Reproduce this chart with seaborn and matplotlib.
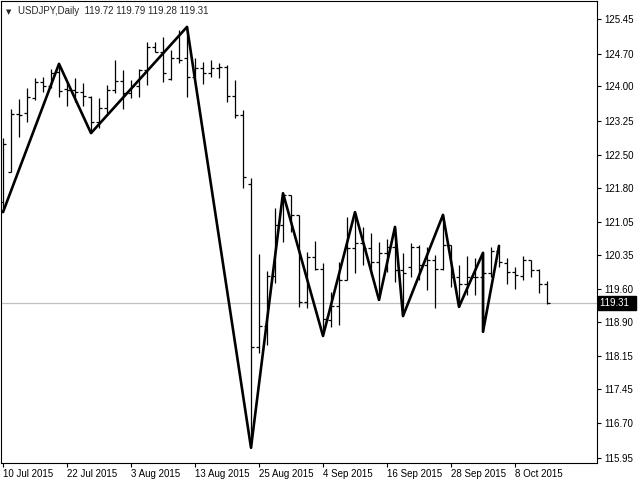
import matplotlib
matplotlib.use('Agg')

import matplotlib.pyplot as plt
import matplotlib.transforms as mtransforms
import seaborn as sns
import numpy as np

# --- data (daily OHLC, 10 Jul 2015 .. 14 Oct 2015) ---
symbol = "USDJPY,Daily"

opens = [121.50, 122.14, 123.39, 123.42, 123.74, 124.09, 124.00, 124.30, 123.94, 123.91,
         123.87, 123.76, 123.22, 123.52, 123.91, 124.11, 123.85, 124.00, 124.35, 124.84,
         124.74, 124.15, 124.61, 124.60, 124.19, 124.39, 124.28, 124.39, 124.41, 123.78,
         123.37, 121.88, 118.35, 118.81, 119.89, 121.00, 121.64, 121.21, 119.33, 120.30,
         120.04, 118.94, 119.24, 119.80, 120.49, 120.60, 120.49, 120.19, 120.39, 120.52,
         120.02, 120.08, 120.52, 120.13, 120.23, 120.04, 120.56, 119.87, 119.72, 119.87,
         119.87, 119.95, 120.43, 120.17, 119.97, 119.89, 120.23, 120.02, 119.72]
highs = [122.87, 123.50, 123.72, 123.96, 124.17, 124.19, 124.37, 124.48, 124.09, 124.17,
         124.07, 123.78, 123.74, 124.02, 124.56, 124.35, 124.13, 124.37, 124.95, 124.95,
         125.06, 124.78, 125.21, 125.28, 124.61, 124.52, 124.56, 124.50, 124.45, 124.13,
         123.48, 122.01, 120.36, 119.99, 121.36, 121.68, 121.64, 121.21, 120.41, 120.65,
         120.17, 119.54, 120.19, 121.17, 121.27, 120.95, 120.82, 120.62, 120.69, 120.95,
         120.39, 120.60, 120.56, 120.52, 120.34, 121.21, 120.56, 120.13, 120.32, 120.28,
         120.39, 120.52, 120.54, 120.28, 120.08, 120.32, 120.23, 120.04, 119.79]
lows = [121.27, 122.14, 122.90, 123.22, 123.70, 123.87, 123.96, 123.76, 123.57, 123.65,
        123.57, 122.98, 123.09, 123.42, 123.85, 123.50, 123.74, 123.76, 124.02, 124.74,
        124.09, 124.13, 124.50, 123.76, 124.17, 124.04, 124.19, 124.17, 123.65, 123.31,
        121.79, 116.17, 118.22, 118.40, 119.74, 120.62, 120.84, 119.22, 119.20, 120.02,
        118.59, 118.79, 118.83, 119.80, 119.95, 120.13, 119.91, 119.37, 119.97, 119.76,
        119.02, 119.87, 119.80, 119.59, 119.20, 120.02, 119.65, 119.22, 119.48, 119.48,
        118.68, 119.87, 120.08, 119.72, 119.61, 119.80, 119.87, 119.52, 119.28]
closes = [122.75, 123.39, 123.37, 123.76, 124.09, 124.00, 124.28, 123.89, 123.91, 123.87,
          123.78, 123.22, 123.52, 123.91, 124.11, 123.85, 124.00, 124.35, 124.84, 124.74,
          124.28, 124.61, 124.56, 124.19, 124.39, 124.28, 124.39, 124.41, 123.78, 123.37,
          122.03, 118.35, 118.81, 119.89, 121.00, 121.64, 121.21, 119.33, 120.30, 120.04,
          118.96, 119.24, 119.80, 120.49, 120.60, 120.49, 120.19, 120.39, 120.52, 120.02,
          119.95, 120.52, 120.13, 120.23, 120.04, 120.56, 119.87, 119.72, 119.87, 119.87,
          119.95, 120.43, 120.19, 119.97, 119.91, 120.23, 120.02, 119.72, 119.31]

# zigzag pivots: bar index + which extreme of that bar
zz_bars = [0, 7, 11, 23, 31, 35, 40, 44, 47, 49, 50, 55, 57, 60, 60, 62]
zz_side = ["L", "H", "L", "H", "L", "H", "L", "H", "L", "H", "L", "H", "L", "H", "L", "H"]

date_labels = ["10 Jul 2015", "22 Jul 2015", "3 Aug 2015", "13 Aug 2015", "25 Aug 2015",
               "4 Sep 2015", "16 Sep 2015", "28 Sep 2015", "8 Oct 2015"]
label_step = 8

price_ticks = [125.45, 124.70, 124.00, 123.25, 122.50, 121.80, 121.05,
               120.35, 119.60, 118.90, 118.15, 117.45, 116.70, 115.95]

# --- plot ---
sns.set_style("ticks")
plt.rcParams['font.family'] = ['Liberation Sans', 'DejaVu Sans']

W, H = 640, 480
fig = plt.figure(figsize=(6.4, 4.8), dpi=100)
ax = fig.add_axes([1 / W, 17 / H, 596 / W, 462 / H])

idx = np.arange(len(opens))
tick_w = 0.4
ax.vlines(idx, lows, highs, color="black", lw=0.9)
ax.hlines(opens, idx - tick_w, idx, color="black", lw=0.9)
ax.hlines(closes, idx, idx + tick_w, color="black", lw=0.9)

zz_y = [highs[b] if s == "H" else lows[b] for b, s in zip(zz_bars, zz_side)]
sns.lineplot(x=zz_bars, y=zz_y, sort=False, estimator=None, color="black", lw=1.9, ax=ax)

last = closes[-1]
ax.axhline(last, color="#c0c0c0", lw=0.9, zorder=0)

ax.set_xlim(-0.25, 74.25)
ax.set_ylim(115.84, 125.84)

ax.yaxis.tick_right()
ax.set_yticks(price_ticks)
ax.set_yticklabels([f"{p:.2f}" for p in price_ticks])
ax.set_xticks(np.arange(len(date_labels)) * label_step)
ax.set_xticklabels(date_labels, ha="left")
ax.tick_params(axis="y", direction="out", length=3, width=0.8, pad=2.5, labelsize=7, colors="black")
ax.tick_params(axis="x", direction="out", length=3, width=0.8, pad=1, labelsize=7, colors="black")
ax.set_xlabel("")
ax.set_ylabel("")
for sp in ax.spines.values():
    sp.set_visible(True)
    sp.set_color("black")
    sp.set_linewidth(0.8)

# last price box on the axis
trans = mtransforms.blended_transform_factory(ax.transAxes, ax.transData)
ax.text(1.0 + 3 / 596, last, f"{last:.2f}  ", transform=trans, ha="left", va="center",
        color="white", fontsize=7, clip_on=False,
        bbox=dict(facecolor="black", edgecolor="black", boxstyle="square,pad=0.2"))

# header
fig.text(6 / W, 1 - 12 / H, "\u25bc", fontsize=5, family="DejaVu Sans", va="center", ha="left")
fig.text(18 / W, 1 - 11.5 / H,
         f"{symbol}  {opens[-1]:.2f} {highs[-1]:.2f} {lows[-1]:.2f} {closes[-1]:.2f}",
         fontsize=7, va="center", ha="left")

fig.savefig("out.png", dpi=100)
plt.close(fig)
